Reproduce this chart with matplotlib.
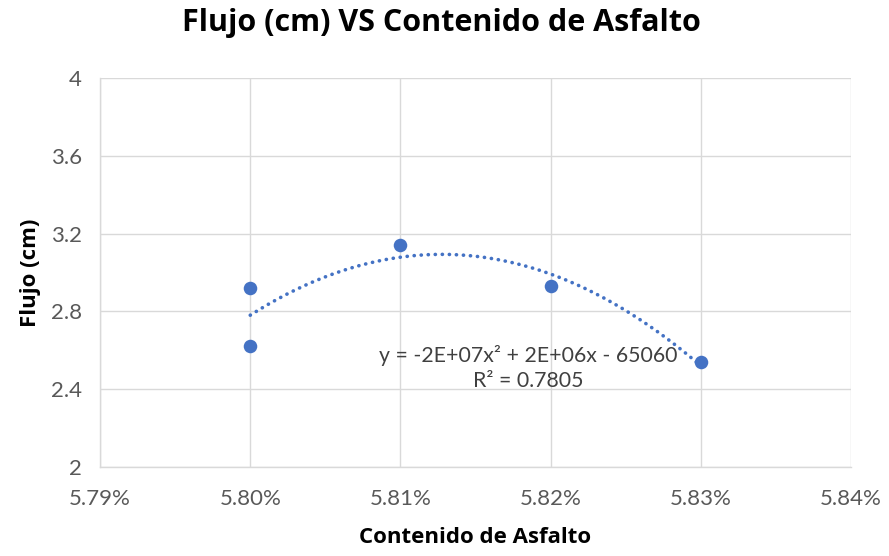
import numpy as np
import matplotlib.pyplot as plt

# Contenido de asfalto (%) y flujo (cm)
contenido = [5.80, 5.80, 5.81, 5.82, 5.83]
flujo = [2.92, 2.62, 3.14, 2.93, 2.54]

x_ticks = [5.79, 5.80, 5.81, 5.82, 5.83, 5.84]
y_ticks = [2, 2.4, 2.8, 3.2, 3.6, 4]

azul = '#4472C4'
gris = '#D9D9D9'

fig = plt.figure(figsize=(8.89, 5.56), dpi=100)
ax = fig.add_axes([0.1125, 0.160, 0.845, 0.700])

# linea de tendencia polinomica de orden 2
coef = np.polyfit(np.array(contenido) / 100, flujo, 2)
xs = np.linspace(min(contenido), max(contenido), 200)
ax.plot(xs, np.polyval(coef, xs / 100), linestyle=(0, (0.05, 1.9)),
        color=azul, linewidth=2.6, dash_capstyle='round', zorder=2)

ax.scatter(contenido, flujo, s=95, color=azul, zorder=3, linewidths=0)

ax.set_xlim(5.79, 5.84)
ax.set_ylim(2, 4)
ax.set_xticks(x_ticks)
ax.set_yticks(y_ticks)
ax.set_xticklabels([f'{v:.2f}%' for v in x_ticks])
ax.set_yticklabels([f'{v:g}' for v in y_ticks])
ax.grid(True, color=gris, linewidth=1)
ax.set_axisbelow(True)
for s in ['top', 'right']:
    ax.spines[s].set_visible(False)
for s in ['left', 'bottom']:
    ax.spines[s].set_color(gris)
    ax.spines[s].set_linewidth(1)
ax.tick_params(length=0, labelsize=16, colors='#595959')
ax.tick_params(axis='x', pad=16)
ax.tick_params(axis='y', pad=13)
for lbl in ax.get_xticklabels() + ax.get_yticklabels():
    lbl.set_fontfamily('Lato')

fig.text(0.497, 0.958, 'Flujo (cm) VS Contenido de Asfalto', ha='center', va='center',
         fontsize=22, fontweight='bold', family='Open Sans')
fig.text(0.534, 0.034, 'Contenido de Asfalto', ha='center', va='center',
         fontsize=16, fontweight='bold', family='Open Sans')
fig.text(0.034, 0.51, 'Flujo (cm)', ha='center', va='center', rotation=90,
         fontsize=16, fontweight='bold', family='Open Sans')

ax.text(5.8185, 2.507, 'y = -2E+07x² + 2E+06x - 65060\nR² = 0.7805', ha='center',
        va='center', fontsize=15.3, family='Lato', color='#404040', linespacing=1.3)

fig.savefig('out.png', dpi=100)
